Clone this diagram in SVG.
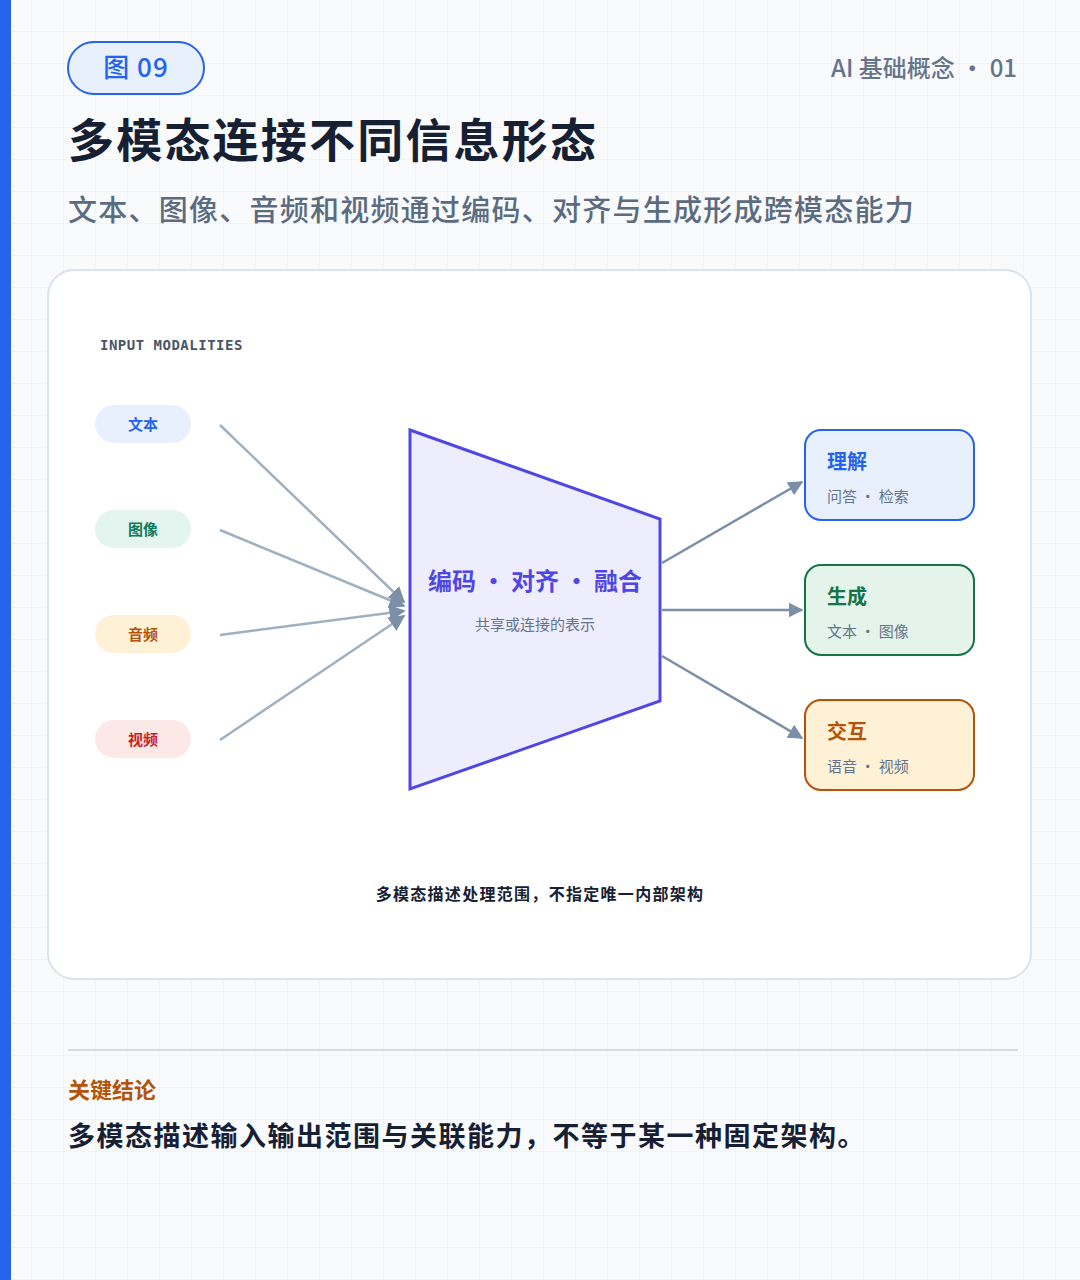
<svg xmlns="http://www.w3.org/2000/svg" width="1080" height="1280" viewBox="0 0 1080 1280">
<defs>
<pattern id="grid" width="32" height="32" patternUnits="userSpaceOnUse"><path d="M32 0V32H0" fill="none" stroke="#e9eef5" stroke-width="1"/></pattern>
<marker id="ah" viewBox="0 0 10 10" refX="9" refY="5" markerWidth="6" markerHeight="6" orient="auto"><path d="M0 0L10 5L0 10z" fill="#7b8fa8"/></marker>
<marker id="ahi" viewBox="0 0 10 10" refX="9" refY="5" markerWidth="6.5" markerHeight="6.5" orient="auto"><path d="M0 0L10 5L0 10z" fill="#7b8fa8"/></marker>
</defs>
<style>
text{font-family:"Noto Sans CJK SC","Inter",sans-serif}
.pill{font-size:15px;font-weight:700}
.ot{font-size:20px;font-weight:700}
.os{font-size:15px;fill:#64748b}
.in{stroke:#9fb0c0;stroke-width:2.5;fill:none}
.out{stroke:#7b8fa8;stroke-width:2.5;fill:none}
</style>
<rect width="1080" height="1280" fill="#f8fafc"/>
<rect width="1080" height="1280" fill="url(#grid)"/>
<rect x="0" y="0" width="11" height="1280" fill="#2563eb"/>
<g id="header">
<rect x="68" y="42" width="136" height="52" rx="26" fill="#e8f0fe" stroke="#2563eb" stroke-width="2"/>
<text x="136" y="77" text-anchor="middle" font-size="26" font-weight="500" fill="#2563eb" letter-spacing="1">图 09</text>
<text x="1017" y="77" text-anchor="end" font-size="24" font-weight="500" fill="#64748b">AI 基础概念 · 01</text>
<text x="68" y="157" font-size="46" font-weight="700" fill="#172033" letter-spacing="2.2">多模态连接不同信息形态</text>
<text x="68" y="221" font-size="29" font-weight="500" fill="#5b6b80" letter-spacing="1.25">文本、图像、音频和视频通过编码、对齐与生成形成跨模态能力</text>
</g>
<rect x="48" y="270" width="983" height="709" rx="26" fill="#ffffff" stroke="#dbe3ec" stroke-width="2"/>
<text x="100" y="350" font-size="14" font-weight="700" fill="#475569" letter-spacing="0.5" style="font-family:'DejaVu Sans Mono',monospace">INPUT MODALITIES</text>
<g id="connectors">
<line class="in" x1="220" y1="425" x2="404" y2="602" marker-end="url(#ahi)"/>
<line class="in" x1="220" y1="530" x2="404" y2="606" marker-end="url(#ahi)"/>
<line class="in" x1="220" y1="635" x2="404" y2="611" marker-end="url(#ahi)"/>
<line class="in" x1="220" y1="740" x2="404" y2="616" marker-end="url(#ahi)"/>
<line class="out" x1="662" y1="563" x2="802" y2="482" marker-end="url(#ah)"/>
<line class="out" x1="662" y1="610" x2="802" y2="610" marker-end="url(#ah)"/>
<line class="out" x1="662" y1="656" x2="802" y2="738" marker-end="url(#ah)"/>
</g>
<g id="in-text"><rect x="95" y="405" width="96" height="38" rx="19" fill="#e8f0fe"/><text class="pill" x="143" y="430" text-anchor="middle" fill="#2563eb">文本</text></g>
<g id="in-image"><rect x="95" y="510" width="96" height="38" rx="19" fill="#e4f4ee"/><text class="pill" x="143" y="535" text-anchor="middle" fill="#0f7a5a">图像</text></g>
<g id="in-audio"><rect x="95" y="615" width="96" height="38" rx="19" fill="#fff1d6"/><text class="pill" x="143" y="640" text-anchor="middle" fill="#b45309">音频</text></g>
<g id="in-video"><rect x="95" y="720" width="96" height="38" rx="19" fill="#fde8e8"/><text class="pill" x="143" y="745" text-anchor="middle" fill="#c81e1e">视频</text></g>
<g id="core">
<polygon points="410,430 660,519 660,701 410,789" fill="#eeedfe" stroke="#4f46e5" stroke-width="3"/>
<text x="535" y="590" text-anchor="middle" font-size="24" font-weight="700" fill="#4f46e5">编码 · 对齐 · 融合</text>
<text x="535" y="630" text-anchor="middle" font-size="15" fill="#64748b">共享或连接的表示</text>
</g>
<g id="out-understand"><rect x="805" y="430" width="169" height="90" rx="16" fill="#e8f0fe" stroke="#2563eb" stroke-width="2"/><text class="ot" x="827" y="469" fill="#2563eb">理解</text><text class="os" x="827" y="502">问答 · 检索</text></g>
<g id="out-generate"><rect x="805" y="565" width="169" height="90" rx="16" fill="#e4f4ea" stroke="#157347" stroke-width="2"/><text class="ot" x="827" y="604" fill="#157347">生成</text><text class="os" x="827" y="637">文本 · 图像</text></g>
<g id="out-interact"><rect x="805" y="700" width="169" height="90" rx="16" fill="#fff1d6" stroke="#b45309" stroke-width="2"/><text class="ot" x="827" y="739" fill="#b45309">交互</text><text class="os" x="827" y="772">语音 · 视频</text></g>
<text x="540" y="900" text-anchor="middle" font-size="16" font-weight="700" fill="#172033" letter-spacing="1.3">多模态描述处理范围，不指定唯一内部架构</text>
<line x1="68" y1="1050" x2="1018" y2="1050" stroke="#d4dce6" stroke-width="2"/>
<text x="68" y="1098" font-size="22" font-weight="700" fill="#b45309">关键结论</text>
<text x="68" y="1146" font-size="27" font-weight="700" fill="#172033" letter-spacing="1.5">多模态描述输入输出范围与关联能力，不等于某一种固定架构。</text>
</svg>
